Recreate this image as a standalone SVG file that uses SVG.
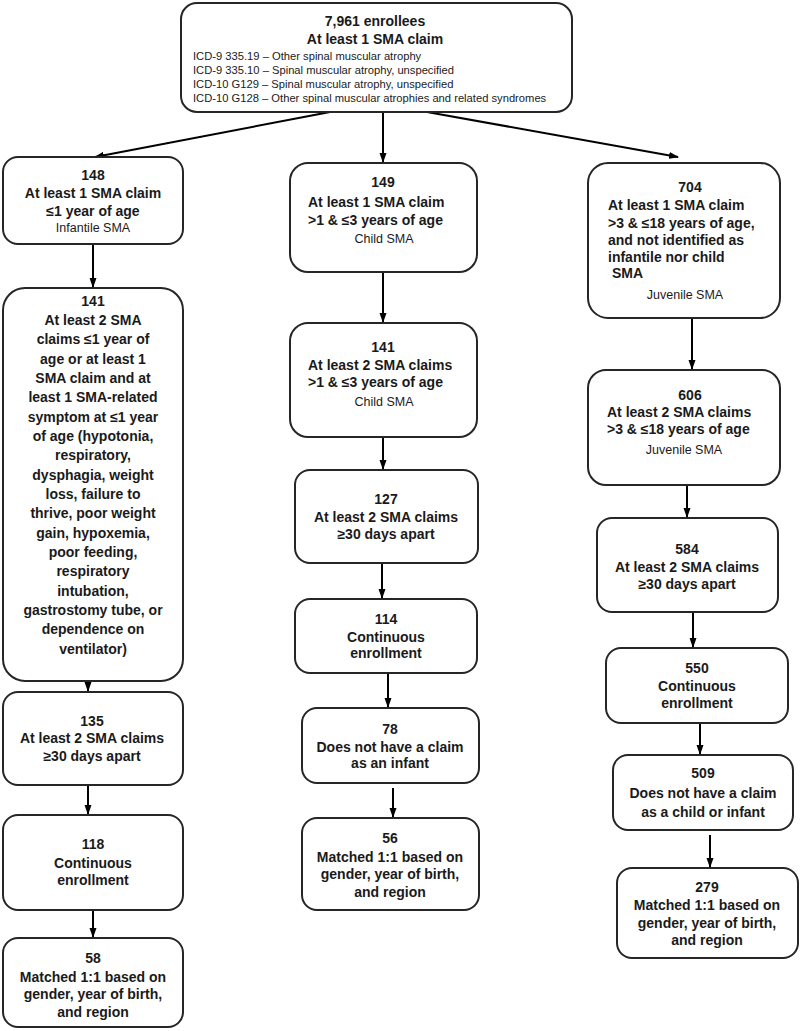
<svg xmlns="http://www.w3.org/2000/svg" width="800" height="1031" viewBox="0 0 800 1031">
<defs>
<style>
.box{fill:#fff;stroke:#262626;stroke-width:2}
.b{font-family:"Liberation Sans",Arial,sans-serif;font-weight:bold;font-size:14px;fill:#1a1a1a}
.r{font-family:"Liberation Sans",Arial,sans-serif;font-size:12.5px;fill:#1a1a1a}
.s{font-family:"Liberation Sans",Arial,sans-serif;font-size:11.2px;fill:#1a1a1a}
.c{text-anchor:middle}
.ln{stroke:#000;stroke-width:2;fill:none;marker-end:url(#ah)}
</style>
<marker id="ah" markerUnits="userSpaceOnUse" markerWidth="10" markerHeight="8" refX="9" refY="4" orient="auto">
<path d="M0,0.5 L10,4 L0,7.5 z" fill="#000"/>
</marker>
</defs>
<rect width="800" height="1031" fill="#fff"/>
<g id="connectors">
<line class="ln" x1="330" y1="112" x2="95" y2="157"/>
<line class="ln" x1="383" y1="112" x2="383" y2="162"/>
<line class="ln" x1="427" y1="112" x2="678" y2="157"/>
<line class="ln" x1="93" y1="244" x2="93" y2="287"/>
<line class="ln" x1="88" y1="682" x2="88" y2="691"/>
<line class="ln" x1="88" y1="786" x2="88" y2="814"/>
<line class="ln" x1="93" y1="911" x2="93" y2="937"/>
<line class="ln" x1="383" y1="273" x2="383" y2="322"/>
<line class="ln" x1="383" y1="438" x2="383" y2="469"/>
<line class="ln" x1="382" y1="564" x2="382" y2="598"/>
<line class="ln" x1="388" y1="674" x2="388" y2="707"/>
<line class="ln" x1="393" y1="788" x2="393" y2="817"/>
<line class="ln" x1="692" y1="319" x2="692" y2="369"/>
<line class="ln" x1="687" y1="486" x2="687" y2="517"/>
<line class="ln" x1="693" y1="613" x2="693" y2="647"/>
<line class="ln" x1="700" y1="724" x2="700" y2="754"/>
<line class="ln" x1="710" y1="835" x2="710" y2="867"/>
</g>
<g id="top">
<rect class="box" x="181" y="3" width="391" height="109" rx="16"/>
<text class="b c" x="375" y="26">7,961 enrollees</text>
<text class="b c" x="375" y="44">At least 1 SMA claim</text>
<text class="s" x="193" y="60">ICD-9 335.19 – Other spinal muscular atrophy</text>
<text class="s" x="193" y="74">ICD-9 335.10 – Spinal muscular atrophy, unspecified</text>
<text class="s" x="193" y="87.5">ICD-10 G129 – Spinal muscular atrophy, unspecified</text>
<text class="s" x="193" y="101.5">ICD-10 G128 – Other spinal muscular atrophies and related syndromes</text>
</g>
<g id="n148">
<rect class="box" x="3" y="157" width="180" height="87" rx="15"/>
<text class="b c" x="93" y="180">148</text>
<text class="b c" x="93" y="198">At least 1 SMA claim</text>
<text class="b c" x="93" y="216">≤1 year of age</text>
<text class="r c" x="93" y="232">Infantile SMA</text>
</g>
<g id="n141a">
<rect class="box" x="3" y="288" width="180" height="393" rx="22"/>
<text class="b c" x="93" y="306">141</text>
<text class="b c" x="93" y="325">At least 2 SMA</text>
<text class="b c" x="93" y="344">claims ≤1 year of</text>
<text class="b c" x="93" y="364">age or at least 1</text>
<text class="b c" x="93" y="383">SMA claim and at</text>
<text class="b c" x="93" y="402">least 1 SMA-related</text>
<text class="b c" x="93" y="422">symptom at ≤1 year</text>
<text class="b c" x="93" y="441">of age (hypotonia,</text>
<text class="b c" x="93" y="460">respiratory,</text>
<text class="b c" x="93" y="480">dysphagia, weight</text>
<text class="b c" x="93" y="499">loss, failure to</text>
<text class="b c" x="93" y="518">thrive, poor weight</text>
<text class="b c" x="93" y="538">gain, hypoxemia,</text>
<text class="b c" x="93" y="557">poor feeding,</text>
<text class="b c" x="93" y="576">respiratory</text>
<text class="b c" x="93" y="596">intubation,</text>
<text class="b c" x="93" y="615">gastrostomy tube, or</text>
<text class="b c" x="93" y="634">dependence on</text>
<text class="b c" x="93" y="654">ventilator)</text>
</g>
<g id="n135">
<rect class="box" x="3" y="692" width="180" height="93" rx="15"/>
<text class="b c" x="92" y="726">135</text>
<text class="b c" x="92" y="743">At least 2 SMA claims</text>
<text class="b c" x="92" y="761">≥30 days apart</text>
</g>
<g id="n118">
<rect class="box" x="3" y="815" width="180" height="95" rx="15"/>
<text class="b c" x="93" y="849">118</text>
<text class="b c" x="93" y="868">Continuous</text>
<text class="b c" x="93" y="885">enrollment</text>
</g>
<g id="n58">
<rect class="box" x="3" y="938" width="180" height="89" rx="15"/>
<text class="b c" x="93" y="963">58</text>
<text class="b c" x="93" y="982">Matched 1:1 based on</text>
<text class="b c" x="93" y="999">gender, year of birth,</text>
<text class="b c" x="93" y="1017">and region</text>
</g>
<g id="n149">
<rect class="box" x="290" y="163" width="187" height="109" rx="18"/>
<text class="b c" x="383" y="187">149</text>
<text class="b" x="308" y="207">At least 1 SMA claim</text>
<text class="b" x="308" y="225">&gt;1 &amp; ≤3 years of age</text>
<text class="r c" x="384" y="243">Child SMA</text>
</g>
<g id="n141b">
<rect class="box" x="290" y="323" width="187" height="114" rx="18"/>
<text class="b c" x="383" y="352">141</text>
<text class="b" x="308" y="370">At least 2 SMA claims</text>
<text class="b" x="308" y="387">&gt;1 &amp; ≤3 years of age</text>
<text class="r c" x="384" y="406">Child SMA</text>
</g>
<g id="n127">
<rect class="box" x="295" y="470" width="183" height="93" rx="15"/>
<text class="b c" x="386" y="504">127</text>
<text class="b c" x="386" y="522">At least 2 SMA claims</text>
<text class="b c" x="386" y="539">≥30 days apart</text>
</g>
<g id="n114">
<rect class="box" x="295" y="599" width="182" height="74" rx="15"/>
<text class="b c" x="386" y="624">114</text>
<text class="b c" x="386" y="642">Continuous</text>
<text class="b c" x="386" y="658">enrollment</text>
</g>
<g id="n78">
<rect class="box" x="302" y="708" width="177" height="75" rx="15"/>
<text class="b c" x="390" y="734">78</text>
<text class="b c" x="390" y="752">Does not have a claim</text>
<text class="b c" x="390" y="768">as an infant</text>
</g>
<g id="n56">
<rect class="box" x="302" y="818" width="177" height="92" rx="15"/>
<text class="b c" x="390" y="843">56</text>
<text class="b c" x="390" y="862">Matched 1:1 based on</text>
<text class="b c" x="390" y="879">gender, year of birth,</text>
<text class="b c" x="390" y="897">and region</text>
</g>
<g id="n704">
<rect class="box" x="588" y="163" width="192" height="155" rx="20"/>
<text class="b c" x="690" y="192">704</text>
<text class="b" x="608" y="210">At least 1 SMA claim</text>
<text class="b" x="608" y="228">&gt;3 &amp; ≤18 years of age,</text>
<text class="b" x="608" y="245">and not identified as</text>
<text class="b" x="608" y="262">infantile nor child</text>
<text class="b" x="612" y="278">SMA</text>
<text class="r c" x="685" y="299">Juvenile SMA</text>
</g>
<g id="n606">
<rect class="box" x="588" y="370" width="192" height="115" rx="18"/>
<text class="b c" x="690" y="400">606</text>
<text class="b" x="607" y="417">At least 2 SMA claims</text>
<text class="b" x="607" y="434">&gt;3 &amp; ≤18 years of age</text>
<text class="r c" x="684" y="454">Juvenile SMA</text>
</g>
<g id="n584">
<rect class="box" x="597" y="518" width="181" height="94" rx="15"/>
<text class="b c" x="687" y="554">584</text>
<text class="b c" x="687" y="572">At least 2 SMA claims</text>
<text class="b c" x="687" y="589">≥30 days apart</text>
</g>
<g id="n550">
<rect class="box" x="606" y="648" width="182" height="75" rx="15"/>
<text class="b c" x="697" y="673">550</text>
<text class="b c" x="697" y="691">Continuous</text>
<text class="b c" x="697" y="708">enrollment</text>
</g>
<g id="n509">
<rect class="box" x="613" y="755" width="180" height="75" rx="15"/>
<text class="b c" x="703" y="778">509</text>
<text class="b c" x="703" y="798">Does not have a claim</text>
<text class="b c" x="703" y="817">as a child or infant</text>
</g>
<g id="n279">
<rect class="box" x="617" y="868" width="181" height="90" rx="15"/>
<text class="b c" x="707" y="892">279</text>
<text class="b c" x="707" y="910">Matched 1:1 based on</text>
<text class="b c" x="707" y="928">gender, year of birth,</text>
<text class="b c" x="707" y="945">and region</text>
</g>
</svg>
